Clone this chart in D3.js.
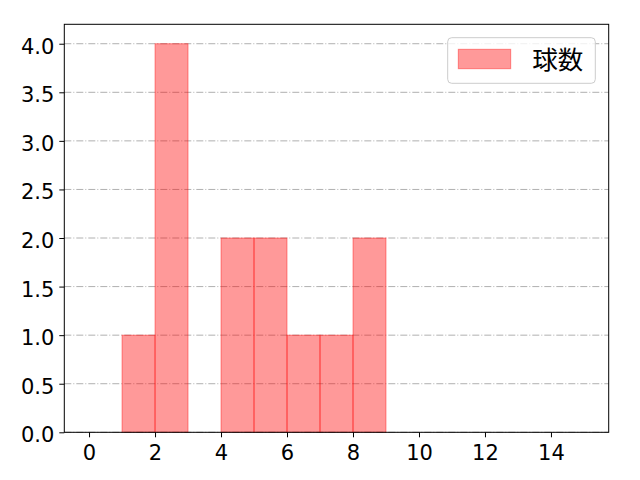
<!DOCTYPE html>
<html>
<head>
<meta charset="utf-8">
<script src="https://cdn.jsdelivr.net/npm/d3@7"></script>
<style>
  body { margin: 0; background: #fff; }
  text { font-family: "DejaVu Sans", sans-serif; }
</style>
</head>
<body>
<div id="chart-area"></div>
<script>
// Histogram bins (edges 0..15, width 1) and counts
var binStarts = [0, 1, 2, 3, 4, 5, 6, 7, 8, 9, 10, 11, 12, 13, 14];
var counts    = [0, 1, 4, 0, 2, 2, 1, 1, 2, 0, 0, 0, 0, 0, 0];
var xTicks = [0, 2, 4, 6, 8, 10, 12, 14];
var yTicks = [0, 0.5, 1.0, 1.5, 2.0, 2.5, 3.0, 3.5, 4.0];
var seriesName = "球数";

var margin = { left: 64.3, right: 31.3, top: 24.3, bottom: 47.7 };
var width = 640 - margin.left - margin.right,
    height = 480 - margin.top - margin.bottom;

var svg = d3.select("#chart-area")
    .append("svg")
        .attr("width", 640)
        .attr("height", 480);

var g = svg.append("g")
    .attr("transform", "translate(" + margin.left + "," + margin.top + ")");

// Scales
var x = d3.scaleLinear()
    .domain([-0.75, 15.75])
    .range([0, width]);
var y = d3.scaleLinear()
    .domain([0, 4.2])
    .range([height, 0]);

// Grid lines (horizontal)
g.append("g")
    .selectAll("line")
    .data(yTicks)
    .enter().append("line")
        .attr("x1", 0)
        .attr("x2", width)
        .attr("y1", function(d){ return y(d); })
        .attr("y2", function(d){ return y(d); })
        .attr("stroke", "#b0b0b0")
        .attr("stroke-width", 1)
        .attr("stroke-dasharray", "7,2,1,2");

// Bars
var bars = binStarts.map(function(b, i){ return { x0: b, x1: b + 1, n: counts[i] }; });
g.append("g")
    .selectAll("rect")
    .data(bars)
    .enter().append("rect")
        .attr("x", function(d){ return x(d.x0); })
        .attr("width", function(d){ return x(d.x1) - x(d.x0); })
        .attr("y", function(d){ return y(d.n); })
        .attr("height", function(d){ return y(0) - y(d.n); })
        .attr("fill", "red")
        .attr("fill-opacity", 0.4)
        .attr("stroke", "red")
        .attr("stroke-opacity", 0.4)
        .attr("stroke-width", 1);

// Axes
var xAxisCall = d3.axisBottom(x)
    .tickValues(xTicks)
    .tickSize(5)
    .tickPadding(8)
    .tickFormat(d3.format("d"));
var xAxis = g.append("g")
    .attr("transform", "translate(0," + height + ")")
    .call(xAxisCall);

var yAxisCall = d3.axisLeft(y)
    .tickValues(yTicks)
    .tickSize(5)
    .tickPadding(5)
    .tickFormat(d3.format(".1f"));
var yAxis = g.append("g")
    .call(yAxisCall);
yAxis.selectAll(".tick text").attr("dy", "0.45em");

[xAxis, yAxis].forEach(function(ax){
    ax.select(".domain").remove();
    ax.selectAll(".tick line").attr("stroke", "#000").attr("stroke-width", 1);
    ax.selectAll(".tick text")
        .attr("fill", "#000")
        .style("font-size", "21px")
        .style("font-family", "'DejaVu Sans', sans-serif");
});

// Frame
g.append("rect")
    .attr("width", width)
    .attr("height", height)
    .attr("fill", "none")
    .attr("stroke", "#000")
    .attr("stroke-width", 1);

// Legend
var legend = svg.append("g")
    .attr("transform", "translate(447.7,37.7)");
legend.append("rect")
    .attr("width", 147.6)
    .attr("height", 45.6)
    .attr("rx", 4)
    .attr("fill", "#fff")
    .attr("fill-opacity", 0.8)
    .attr("stroke", "#cccccc")
    .attr("stroke-width", 1);
legend.append("rect")
    .attr("x", 10.6)
    .attr("y", 11.6)
    .attr("width", 52.4)
    .attr("height", 19.4)
    .attr("fill", "red")
    .attr("fill-opacity", 0.4)
    .attr("stroke", "red")
    .attr("stroke-opacity", 0.4);
legend.append("text")
    .attr("x", 84.5)
    .attr("y", 31)
    .style("font-size", "25.5px")
    .style("font-family", "'Noto Sans CJK JP', sans-serif")
    .attr("fill", "#000")
    .text(seriesName);
</script>
</body>
</html>
